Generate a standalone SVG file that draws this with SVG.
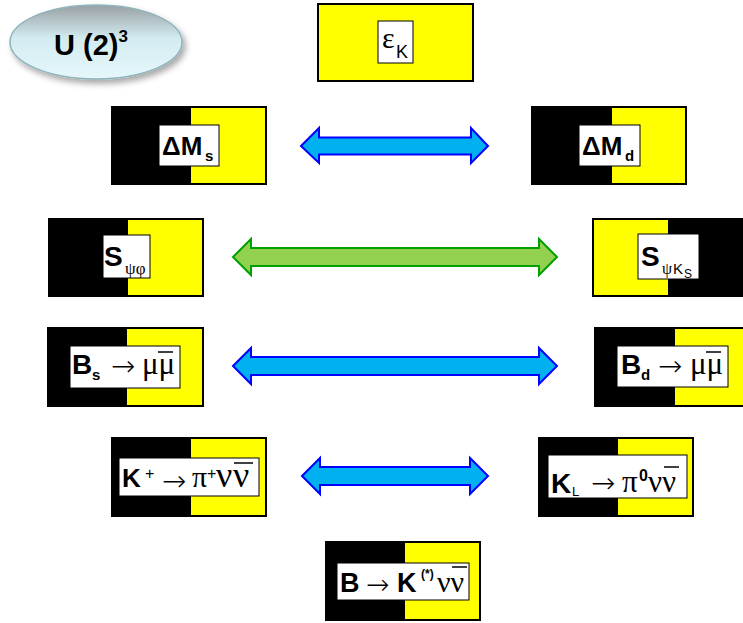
<svg xmlns="http://www.w3.org/2000/svg" width="743" height="623" viewBox="0 0 743 623">
<defs>
<linearGradient id="eg" x1="0" y1="0" x2="0" y2="1">
<stop offset="0" stop-color="#98a0a3"/>
<stop offset="0.45" stop-color="#d3ecf1"/>
<stop offset="1" stop-color="#e6f7fa"/>
</linearGradient>
<filter id="sh" x="-20%" y="-20%" width="150%" height="160%">
<feDropShadow dx="3" dy="4" stdDeviation="3" flood-color="#000" flood-opacity="0.35"/>
</filter>
</defs>
<style>
.box{stroke:#000;stroke-width:2}
.blk{fill:#000}
.yel{fill:#ffff00}
.wht{fill:#fff;stroke:#000;stroke-width:1}
.b{font-family:"Liberation Sans",Arial,sans-serif;font-weight:bold;fill:#000}
.g{font-family:"Liberation Serif","Times New Roman",serif;fill:#000}
.ar{font-family:"DejaVu Sans",sans-serif;font-weight:200;fill:#000}
.s{font-family:"Liberation Sans",Arial,sans-serif;fill:#000}
.ov{stroke:#000;stroke-width:1.5}
.ab{fill:#00b0f0;stroke:#0000ff;stroke-width:2;stroke-linejoin:miter}
.ag{fill:#92d050;stroke:#00a000;stroke-width:2;stroke-linejoin:miter}
</style>

<g id="u23">
<ellipse cx="96" cy="42" rx="86" ry="37" fill="url(#eg)" stroke="#8fb4bc" stroke-width="1.5" filter="url(#sh)"/>
<text class="b" x="54" y="55" font-size="29">U (2)<tspan font-size="17" dy="-13">3</tspan></text>
</g>

<g id="epsK">
<rect class="box yel" x="318" y="4" width="155" height="77"/>
<rect class="wht" x="378" y="21" width="35" height="42"/>
<text class="g" x="382" y="48" font-size="30">ε</text>
<text class="s" x="396" y="58" font-size="18">K</text>
</g>

<g id="dMs">
<rect class="yel" x="112" y="107" width="154" height="77"/>
<rect class="blk" x="112" y="107" width="79" height="77"/>
<rect class="box" x="112" y="107" width="154" height="77" fill="none"/>
<rect class="wht" x="159" y="125" width="60" height="41"/>
<text class="b" x="162" y="155" font-size="26">ΔM</text>
<text class="b" x="205" y="161" font-size="15">s</text>
</g>

<g id="dMd">
<rect class="yel" x="532" y="107" width="154" height="77"/>
<rect class="blk" x="532" y="107" width="80" height="77"/>
<rect class="box" x="532" y="107" width="154" height="77" fill="none"/>
<rect class="wht" x="579" y="125" width="61" height="41"/>
<text class="b" x="582" y="155" font-size="26">ΔM</text>
<text class="b" x="625" y="161" font-size="15">d</text>
</g>

<g id="Spsiphi">
<rect class="yel" x="49" y="219" width="154" height="77"/>
<rect class="blk" x="49" y="219" width="79" height="77"/>
<rect class="box" x="49" y="219" width="154" height="77" fill="none"/>
<rect class="wht" x="103" y="235" width="47" height="43"/>
<text class="b" x="104" y="266" font-size="28">S</text>
<text class="g" x="125" y="274" font-size="17">ψφ</text>
</g>

<g id="SpsiKs">
<rect class="blk" x="593" y="219" width="156" height="77"/>
<rect class="yel" x="593" y="219" width="75" height="77"/>
<rect class="box" x="593" y="219" width="156" height="77" fill="none"/>
<rect class="wht" x="638" y="234" width="61" height="45"/>
<text class="b" x="641" y="266" font-size="28">S</text>
<text class="g" x="662" y="274" font-size="16">ψ</text>
<text class="s" x="673" y="274" font-size="15">K</text>
<text class="s" x="684" y="278" font-size="12">S</text>
</g>

<g id="Bsmumu">
<rect class="yel" x="48" y="328" width="155" height="78"/>
<rect class="blk" x="48" y="328" width="79" height="78"/>
<rect class="box" x="48" y="328" width="155" height="78" fill="none"/>
<rect class="wht" x="70" y="346" width="110" height="42"/>
<text class="b" x="72" y="374" font-size="28">B</text>
<text class="b" x="92" y="380" font-size="15">s</text>
<text class="ar" x="111" y="376" font-size="29">→</text>
<text class="g" x="142" y="374" font-size="31">μμ</text>
<line class="ov" x1="158" y1="352" x2="173" y2="352"/>
</g>

<g id="Bdmumu">
<rect class="yel" x="595" y="328" width="156" height="78"/>
<rect class="blk" x="595" y="328" width="80" height="78"/>
<rect class="box" x="595" y="328" width="156" height="78" fill="none"/>
<rect class="wht" x="617" y="346" width="111" height="41"/>
<text class="b" x="621" y="374" font-size="28">B</text>
<text class="b" x="641" y="380" font-size="15">d</text>
<text class="ar" x="658" y="376" font-size="29">→</text>
<text class="g" x="690" y="374" font-size="31">μμ</text>
<line class="ov" x1="706" y1="352" x2="721" y2="352"/>
</g>

<g id="Kplus">
<rect class="yel" x="112" y="438" width="154" height="78"/>
<rect class="blk" x="112" y="438" width="79" height="78"/>
<rect class="box" x="112" y="438" width="154" height="78" fill="none"/>
<rect class="wht" x="119" y="458" width="140" height="38"/>
<text class="b" x="122" y="487" font-size="26">K</text>
<text class="s" x="145" y="479" font-size="16">+</text>
<text class="ar" x="162" y="491" font-size="29">→</text>
<text class="g" x="192" y="487" font-size="30">π</text>
<text class="s" x="207" y="479" font-size="16">+</text>
<text class="g" x="216" y="487" font-size="36">ν</text>
<text class="g" x="233" y="487" font-size="36">ν</text>
<line class="ov" x1="234" y1="463" x2="253" y2="463"/>
</g>

<g id="KL">
<rect class="yel" x="539" y="438" width="154" height="78"/>
<rect class="blk" x="539" y="438" width="79" height="78"/>
<rect class="box" x="539" y="438" width="154" height="78" fill="none"/>
<rect class="wht" x="548" y="455" width="139" height="43"/>
<text class="b" x="551" y="493" font-size="28">K</text>
<text class="s" x="572" y="496" font-size="13">L</text>
<text class="ar" x="591" y="493" font-size="29">→</text>
<text class="g" x="622" y="492" font-size="31">π</text>
<text class="b" x="639" y="481" font-size="16">0</text>
<text class="g" x="648" y="492" font-size="31">νν</text>
<line class="ov" x1="664" y1="467" x2="679" y2="467"/>
</g>

<g id="BKnunu">
<rect class="yel" x="326" y="542" width="154" height="78"/>
<rect class="blk" x="326" y="542" width="79" height="78"/>
<rect class="box" x="326" y="542" width="154" height="78" fill="none"/>
<rect class="wht" x="337" y="563" width="132" height="37"/>
<text class="b" x="340" y="592" font-size="27">B</text>
<text class="ar" x="366" y="594" font-size="28">→</text>
<text class="b" x="397" y="592" font-size="27">K</text>
<text class="b" x="421" y="578" font-size="12">(*)</text>
<text class="g" x="437" y="592" font-size="30">νν</text>
<line class="ov" x1="452" y1="567" x2="467" y2="567"/>
</g>

<g id="connectors">
<path class="ab" d="M301,146 L319,128 L319,137.5 L471,137.5 L471,128 L488,146 L471,163 L471,154.5 L319,154.5 L319,163 Z"/>
<path class="ag" d="M233,257 L251,239 L251,248 L539,248 L539,239 L557,257 L539,275 L539,266 L251,266 L251,275 Z"/>
<path class="ab" d="M233,366 L251,348 L251,357 L539,357 L539,348 L557,366 L539,384 L539,375 L251,375 L251,384 Z"/>
<path class="ab" d="M302,476 L320,458 L320,467 L470,467 L470,458 L488,476 L470,494 L470,485 L320,485 L320,494 Z"/>
</g>
</svg>
